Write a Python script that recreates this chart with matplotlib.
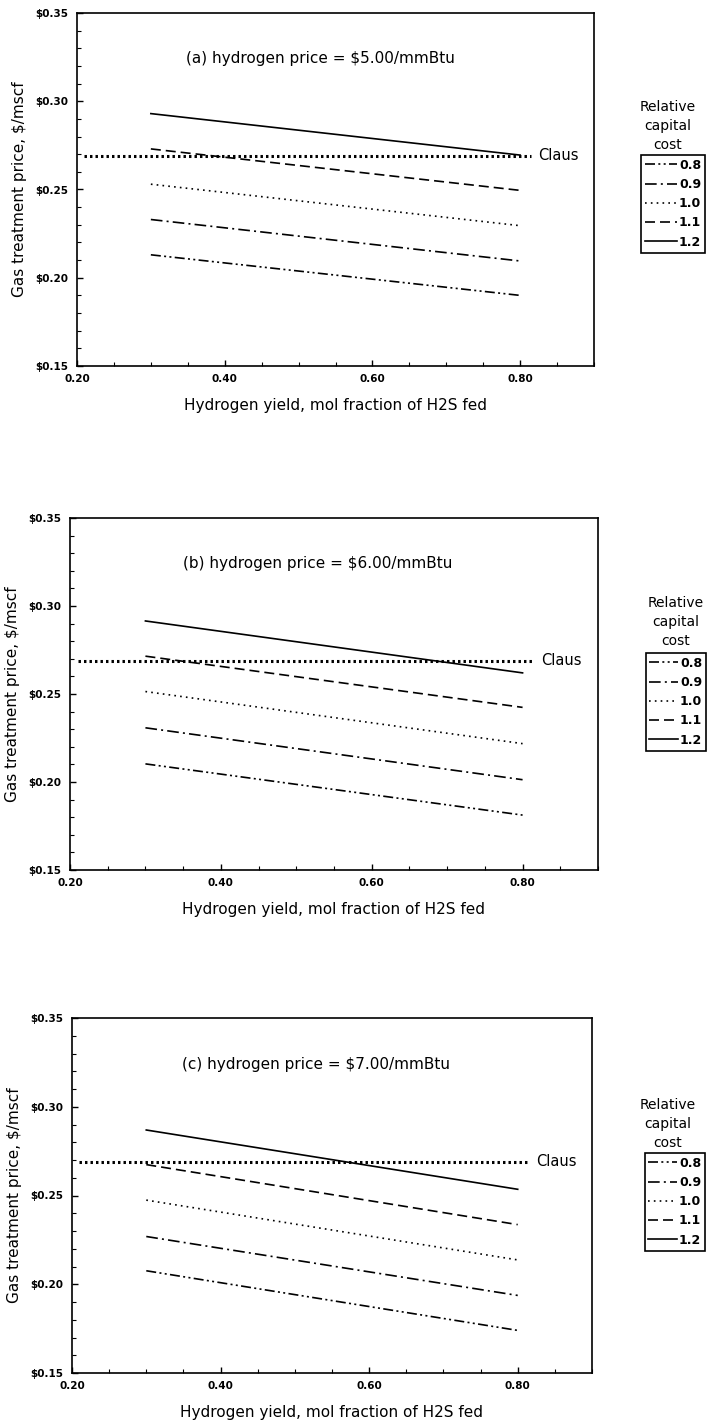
import numpy as np
import matplotlib
matplotlib.use("Agg")
import matplotlib.pyplot as plt
from matplotlib.ticker import MultipleLocator, FuncFormatter

# hydrogen yield (start / end of each curve)
yield_x = [0.30, 0.80]
capital_costs = ["0.8", "0.9", "1.0", "1.1", "1.2"]

# gas treatment price, $/mscf, per panel and relative capital cost
price_a = {"0.8": [0.213, 0.190], "0.9": [0.233, 0.2095], "1.0": [0.253, 0.2295],
           "1.1": [0.273, 0.2495], "1.2": [0.293, 0.2695]}
price_b = {"0.8": [0.2103, 0.1812], "0.9": [0.2308, 0.2013], "1.0": [0.2514, 0.2218],
           "1.1": [0.2715, 0.2424], "1.2": [0.2915, 0.262]}
price_c = {"0.8": [0.2076, 0.1740], "0.9": [0.2269, 0.1937], "1.0": [0.2474, 0.2137],
           "1.1": [0.2674, 0.2336], "1.2": [0.2869, 0.2535]}

claus_x = [0.21, 0.815]
claus_price = 0.269

panel_titles = ["(a) hydrogen price = $5.00/mmBtu",
                "(b) hydrogen price = $6.00/mmBtu",
                "(c) hydrogen price = $7.00/mmBtu"]

styles = {"0.8": (0, (6, 2, 1.2, 2, 1.2, 2)),
          "0.9": (0, (7, 2.5, 1.2, 2.5)),
          "1.0": (0, (1, 2.5)),
          "1.1": (0, (6, 3)),
          "1.2": "-"}

W, H = 708, 1425
fig = plt.figure(figsize=(W / 100, H / 100), dpi=100)

# pixel boxes: left, top, right, bottom
boxes = [(77, 13, 594, 366), (70, 518, 598, 870), (72, 1018, 592, 1373)]
# legend box (right, top) and legend title (center x, bottom) in pixels
leg_pos = [(705, 155, 668, 152), (706, 653, 676, 648), (705, 1153, 668, 1150)]

for i, (data, title) in enumerate(zip([price_a, price_b, price_c], panel_titles)):
    l, t, r, b = boxes[i]
    ax = fig.add_axes([l / W, 1 - b / H, (r - l) / W, (b - t) / H])
    for c in capital_costs:
        ax.plot(yield_x, data[c], color="black", lw=1.2, linestyle=styles[c], label=c)
    ax.plot(claus_x, [claus_price, claus_price], color="black", lw=2.2,
            linestyle=(0, (0.8, 1.0)))
    ax.text(claus_x[1] + 0.01, claus_price, "Claus", fontsize=10.5, va="center", ha="left")

    ax.set_xlim(0.2, 0.9)
    ax.set_ylim(0.15, 0.35)
    ax.xaxis.set_major_locator(MultipleLocator(0.2))
    ax.xaxis.set_minor_locator(MultipleLocator(0.05))
    ax.yaxis.set_major_locator(MultipleLocator(0.05))
    ax.yaxis.set_minor_locator(MultipleLocator(0.01))
    ax.set_xticks([0.2, 0.4, 0.6, 0.8])
    ax.xaxis.set_major_formatter(FuncFormatter(lambda v, p: "%.2f" % v))
    ax.yaxis.set_major_formatter(FuncFormatter(lambda v, p: "$%.2f" % v))
    ax.tick_params(which="both", direction="in", top=False, right=False)
    ax.tick_params(which="major", length=4, width=1, labelsize=7.5, pad=6)
    ax.tick_params(which="minor", length=3, width=0.8)
    for lab in ax.get_xticklabels() + ax.get_yticklabels():
        lab.set_fontweight("bold")
    for s in ax.spines.values():
        s.set_linewidth(1.2)

    ax.text(0.47, 0.87, title, transform=ax.transAxes, ha="center", va="center", fontsize=11)
    ax.set_xlabel("Hydrogen yield, mol fraction of H2S fed", fontsize=11, labelpad=10)
    ax.set_ylabel("Gas treatment price, $/mscf", fontsize=11, labelpad=6)

    lx, ly, tx, ty = leg_pos[i]
    to_ax = lambda px, py: ((px - l) / (r - l), 1 - (py - t) / (b - t))
    leg = ax.legend(loc="upper right", bbox_to_anchor=to_ax(lx, ly), fontsize=9,
                    handlelength=2.6 if i == 0 else 2.3, handletextpad=0.15,
                    borderpad=0.3, labelspacing=0.5, borderaxespad=0,
                    fancybox=False, frameon=True, edgecolor="black", framealpha=1)
    leg.get_frame().set_linewidth(1.2)
    for txt in leg.get_texts():
        txt.set_fontweight("bold")
    ax_tx, ax_ty = to_ax(tx, ty)
    ax.text(ax_tx, ax_ty, "Relative\ncapital\ncost", transform=ax.transAxes,
            ha="center", va="bottom", fontsize=10, linespacing=1.45)

fig.savefig("out.png", dpi=100)
